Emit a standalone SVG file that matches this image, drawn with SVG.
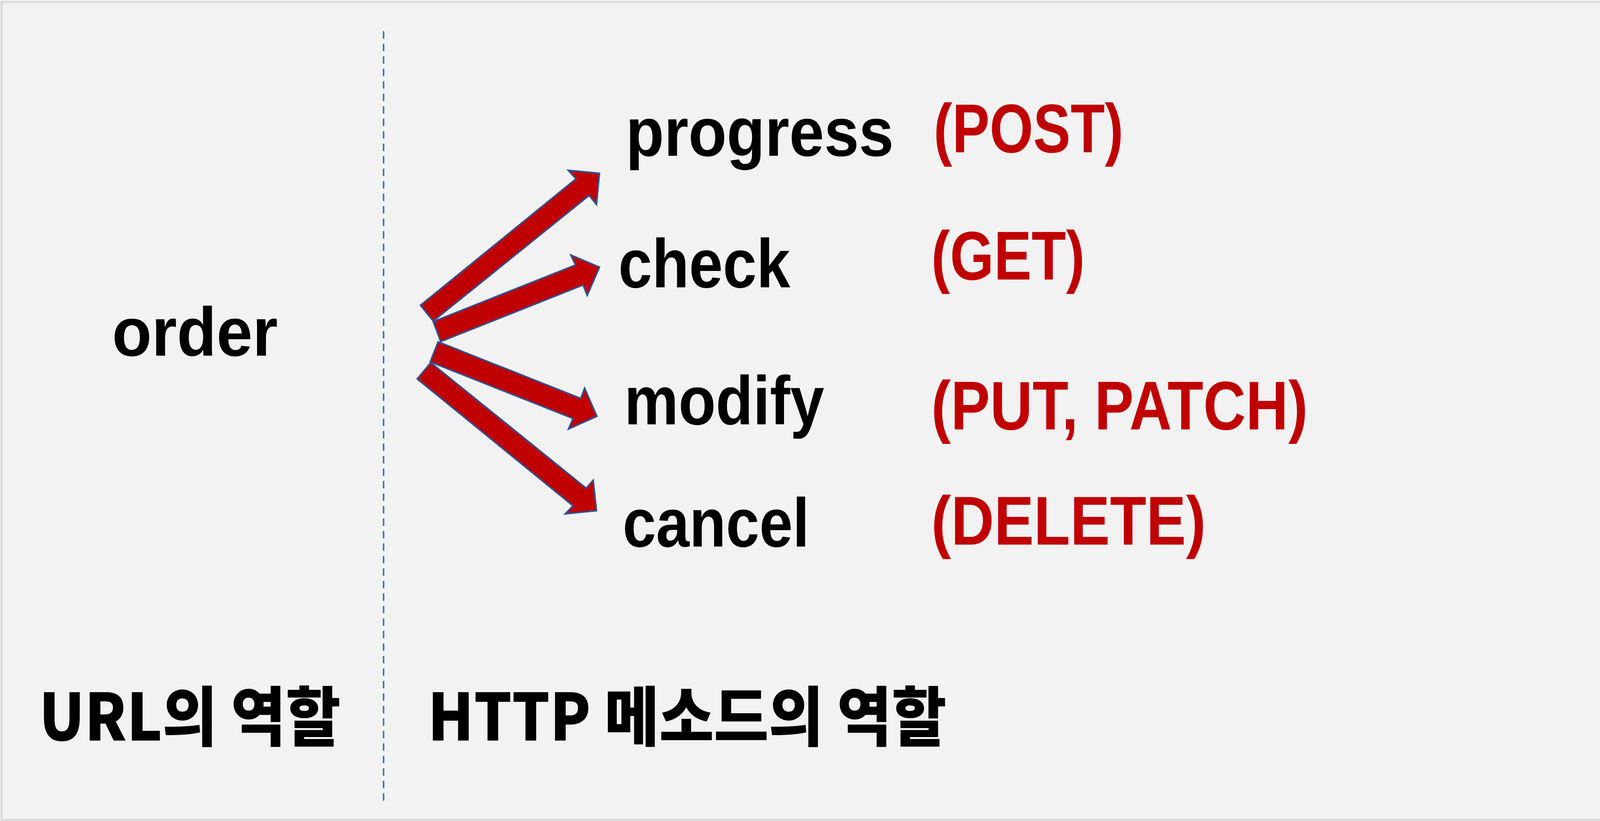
<svg xmlns="http://www.w3.org/2000/svg" width="4216" height="2103" viewBox="0 0 4216 2103">
<style>
.lbl{font-family:"Liberation Sans","Noto Sans CJK KR",sans-serif;font-weight:bold;font-size:176px;fill:#000000}
.red{fill:#C00000}
.kr{font-family:"Noto Sans CJK KR","Liberation Sans",sans-serif;font-weight:900;font-size:166px;fill:#000000}
.arrow{fill:#C00000;stroke:#2F528F;stroke-width:4;stroke-linejoin:miter}
</style>
<rect x="0" y="0" width="4216" height="2103" fill="#F2F2F2"/>
<rect x="4" y="5" width="4207" height="2095" fill="none" stroke="#D9D9D9" stroke-width="5"/>
<line x1="982" y1="80" x2="982" y2="2062" stroke="#4472C4" stroke-width="4" stroke-dasharray="19 13"/>
<g id="connectors">
<polygon class="arrow" points="1076.5,781.9 1109.1,822.5 1508.2,500.6 1527,523.8 1534.6,443.8 1454.6,436.3 1474.5,458.1"/>
<polygon class="arrow" points="1109.1,823.8 1128.2,875 1492.9,730 1503.2,756.9 1534.6,684.4 1461.2,653.1 1473.4,678.8"/>
<polygon class="arrow" points="1121.7,875.6 1101.4,926.9 1466.9,1071.9 1455.4,1098.8 1528.1,1066.3 1496.7,994.4 1486.8,1020.6"/>
<polygon class="arrow" points="1102.6,928.8 1068.1,970.6 1466.9,1295.6 1447,1316.3 1527,1308.1 1518.6,1230 1500.6,1250.6"/>
</g>
<g id="order"><text class="lbl" x="287" y="911" textLength="424" lengthAdjust="spacingAndGlyphs">order</text></g>
<g id="progress"><text class="lbl" x="1602" y="399" textLength="686" lengthAdjust="spacingAndGlyphs">progress</text></g>
<g id="post"><text class="lbl red" x="2390" y="390" textLength="486" lengthAdjust="spacingAndGlyphs">(POST)</text></g>
<g id="check"><text class="lbl" x="1583" y="736" textLength="440" lengthAdjust="spacingAndGlyphs">check</text></g>
<g id="get"><text class="lbl red" x="2384" y="716" textLength="393" lengthAdjust="spacingAndGlyphs">(GET)</text></g>
<g id="modify"><text class="lbl" x="1598" y="1087" textLength="512" lengthAdjust="spacingAndGlyphs">modify</text></g>
<g id="putpatch"><text class="lbl red" x="2384" y="1100" textLength="964" lengthAdjust="spacingAndGlyphs">(PUT, PATCH)</text></g>
<g id="cancel"><text class="lbl" x="1594" y="1400" textLength="478" lengthAdjust="spacingAndGlyphs">cancel</text></g>
<g id="delete"><text class="lbl red" x="2384" y="1395" textLength="703" lengthAdjust="spacingAndGlyphs">(DELETE)</text></g>
<g id="url-role"><text class="kr" x="100" y="1897" textLength="772" lengthAdjust="spacingAndGlyphs">URL의 역할</text></g>
<g id="http-role"><text class="kr" x="1095" y="1897" textLength="1328" lengthAdjust="spacingAndGlyphs">HTTP 메소드의 역할</text></g>
</svg>
